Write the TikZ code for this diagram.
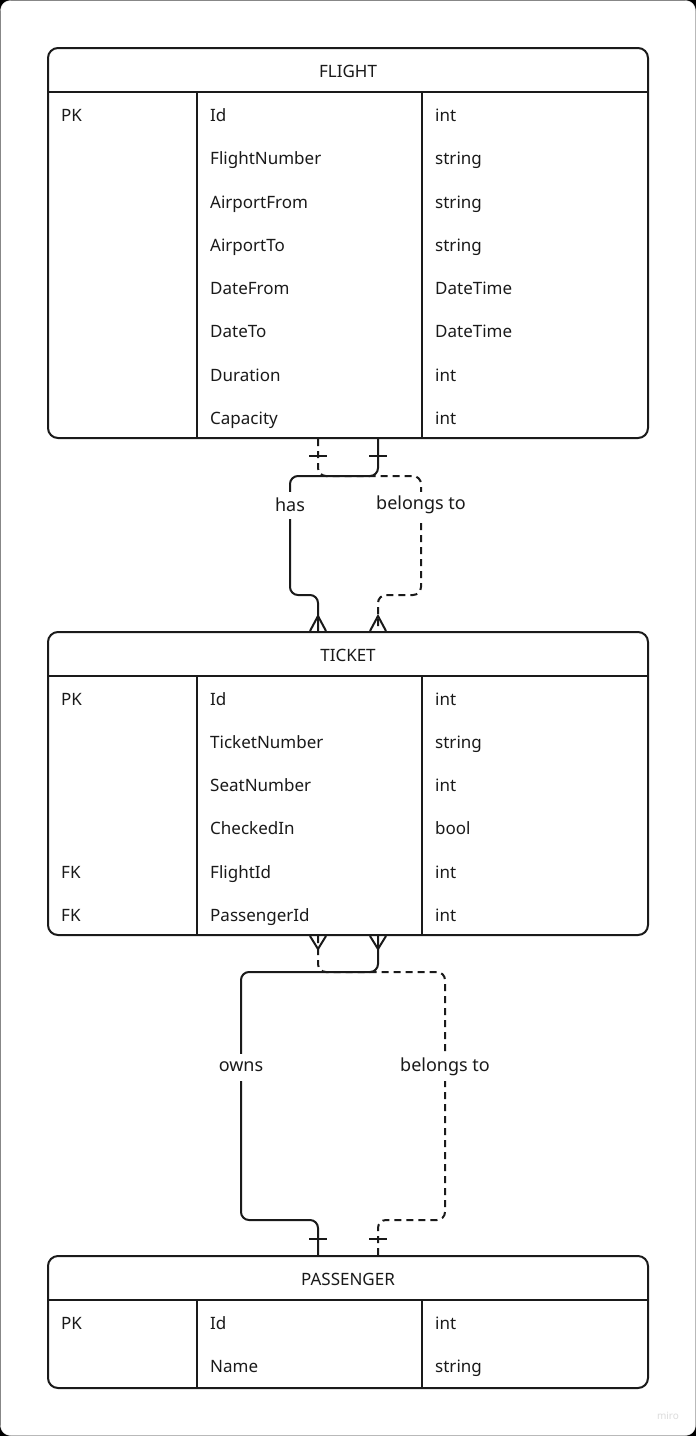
\documentclass[tikz,border=0pt]{standalone}
\usepackage{fontspec}
\setmainfont{Noto Sans}
\definecolor{ink}{HTML}{1A1A1A}
\definecolor{framegray}{HTML}{DCDCDC}

\begin{document}
\begin{tikzpicture}[x=1pt,y=-1pt,
        tbl/.style={draw=ink,line width=2pt,rounded corners=10pt,minimum width=600pt,inner sep=0pt},
        cell/.style={anchor=base west,inner sep=0pt,text=ink,font=\fontsize{17}{20}\selectfont},
        title/.style={anchor=base,inner sep=0pt,text=ink,font=\fontsize{17}{20}\selectfont},
        rel/.style={draw=ink,line width=2pt,rounded corners=8pt},
        lbl/.style={fill=white,text=ink,inner sep=4pt,minimum height=27pt,font=\fontsize{18}{21}\selectfont}
    ]
    \useasboundingbox (0,0) rectangle (696,1436);
    \fill[black] (0,0) rectangle (696,1436);
    \filldraw[fill=white,draw=framegray,rounded corners=10pt] (0.5,0.5) rectangle (695.5,1435.5);

    % tables
    \node[tbl,minimum height=390pt] (flight) at (348,243) {};
    \node[tbl,minimum height=303pt] (ticket) at (348,783.5) {};
    \node[tbl,minimum height=132pt] (passenger) at (348,1322) {};

    \draw[ink,line width=2pt] (flight.north west) ++(0,45) -- ++(600,0);
    \draw[ink,line width=2pt] ([xshift=150pt,yshift=-45pt]flight.north west) -- ([xshift=150pt]flight.south west);
    \draw[ink,line width=2pt] ([xshift=375pt,yshift=-45pt]flight.north west) -- ([xshift=375pt]flight.south west);
    \draw[ink,line width=2pt] (ticket.north west) ++(0,45) -- ++(600,0);
    \draw[ink,line width=2pt] ([xshift=150pt,yshift=-45pt]ticket.north west) -- ([xshift=150pt]ticket.south west);
    \draw[ink,line width=2pt] ([xshift=375pt,yshift=-45pt]ticket.north west) -- ([xshift=375pt]ticket.south west);
    \draw[ink,line width=2pt] (passenger.north west) ++(0,45) -- ++(600,0);
    \draw[ink,line width=2pt] ([xshift=150pt,yshift=-45pt]passenger.north west) -- ([xshift=150pt]passenger.south west);
    \draw[ink,line width=2pt] ([xshift=375pt,yshift=-45pt]passenger.north west) -- ([xshift=375pt]passenger.south west);

    % FLIGHT
    \node[title] (flight-title) at (348,77) {FLIGHT};
    \node[cell] (flight-pk) at (61,121) {PK};
    \node[cell] (flight-id) at (210,121) {Id};
    \node[cell] (flight-id-t) at (435,121) {int};
    \node[cell] (flight-num) at (210,164) {FlightNumber};
    \node[cell] (flight-num-t) at (435,164) {string};
    \node[cell] (flight-from) at (210,208) {AirportFrom};
    \node[cell] (flight-from-t) at (435,208) {string};
    \node[cell] (flight-to) at (210,251) {AirportTo};
    \node[cell] (flight-to-t) at (435,251) {string};
    \node[cell] (flight-dfrom) at (210,294) {DateFrom};
    \node[cell] (flight-dfrom-t) at (435,294) {DateTime};
    \node[cell] (flight-dto) at (210,337) {DateTo};
    \node[cell] (flight-dto-t) at (435,337) {DateTime};
    \node[cell] (flight-dur) at (210,381) {Duration};
    \node[cell] (flight-dur-t) at (435,381) {int};
    \node[cell] (flight-cap) at (210,424) {Capacity};
    \node[cell] (flight-cap-t) at (435,424) {int};

    % TICKET
    \node[title] (ticket-title) at (348,661) {TICKET};
    \node[cell] (ticket-pk) at (61,705) {PK};
    \node[cell] (ticket-id) at (210,705) {Id};
    \node[cell] (ticket-id-t) at (435,705) {int};
    \node[cell] (ticket-num) at (210,748) {TicketNumber};
    \node[cell] (ticket-num-t) at (435,748) {string};
    \node[cell] (ticket-seat) at (210,791) {SeatNumber};
    \node[cell] (ticket-seat-t) at (435,791) {int};
    \node[cell] (ticket-chk) at (210,834) {CheckedIn};
    \node[cell] (ticket-chk-t) at (435,834) {bool};
    \node[cell] (ticket-fk1) at (61,878) {FK};
    \node[cell] (ticket-fid) at (210,878) {FlightId};
    \node[cell] (ticket-fid-t) at (435,878) {int};
    \node[cell] (ticket-fk2) at (61,921) {FK};
    \node[cell] (ticket-pid) at (210,921) {PassengerId};
    \node[cell] (ticket-pid-t) at (435,921) {int};

    % PASSENGER
    \node[title] (passenger-title) at (348,1285) {PASSENGER};
    \node[cell] (passenger-pk) at (61,1329) {PK};
    \node[cell] (passenger-id) at (210,1329) {Id};
    \node[cell] (passenger-id-t) at (435,1329) {int};
    \node[cell] (passenger-name) at (210,1372) {Name};
    \node[cell] (passenger-name-t) at (435,1372) {string};

    % connector ends
    \coordinate (f1) at ([xshift=-30pt]flight.south);
    \coordinate (f2) at ([xshift=30pt]flight.south);
    \coordinate (t1) at ([xshift=-30pt]ticket.north);
    \coordinate (t2) at ([xshift=30pt]ticket.north);
    \coordinate (t3) at ([xshift=-30pt]ticket.south);
    \coordinate (t4) at ([xshift=30pt]ticket.south);
    \coordinate (p1) at ([xshift=-30pt]passenger.north);
    \coordinate (p2) at ([xshift=30pt]passenger.north);

    \draw[rel,dash pattern=on 7pt off 5pt] (f1) |- (421,476) |- (378,595) -- (t2);
    \draw[rel] (f2) |- (290,476) |- (318,595) -- (t1);
    \draw[rel,dash pattern=on 7pt off 5pt] (t3) |- (445,972) |- (378,1220) -- (p2);
    \draw[rel] (t4) |- (241,972) |- (318,1220) -- (p1);

    % ends: bars and crow's feet
    \draw[ink,line width=2pt] (f1) ++(-9,17) -- ++(18,0);
    \draw[ink,line width=2pt] (f2) ++(-9,17) -- ++(18,0);
    \draw[ink,line width=2pt] (t1) ++(-8,0) -- ++(8,-15) -- ++(8,15);
    \draw[ink,line width=2pt] (t2) ++(-8,0) -- ++(8,-15) -- ++(8,15);
    \draw[ink,line width=2pt] (t3) ++(-8,0) -- ++(8,13) -- ++(8,-13);
    \draw[ink,line width=2pt] (t4) ++(-8,0) -- ++(8,13) -- ++(8,-13);
    \draw[ink,line width=2pt] (p1) ++(-9,-16) -- ++(18,0);
    \draw[ink,line width=2pt] (p2) ++(-9,-16) -- ++(18,0);

    % labels
    \node[lbl] (has) at (290,505) {has};
    \node[lbl] (belongs1) at (421,505) {belongs to};
    \node[lbl] (owns) at (241,1067) {owns};
    \node[lbl] (belongs2) at (445,1067) {belongs to};

    \node[text=framegray,font=\fontsize{10}{12}\selectfont] (miro) at (668,1416) {miro};
\end{tikzpicture}
\end{document}
